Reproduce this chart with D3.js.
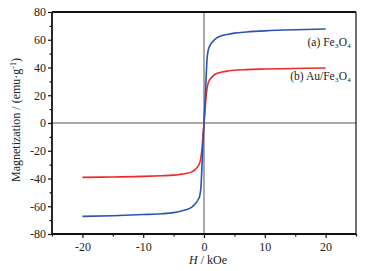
<!DOCTYPE html>
<html><head><meta charset="utf-8">
<script src="https://cdn.jsdelivr.net/npm/d3@7"></script>
<style>body{margin:0;background:#fff}svg{display:block}text{font-family:"Liberation Serif","Times New Roman",serif;fill:#222}</style>
</head><body><svg id="c" width="366" height="271"></svg>
<script>
const fieldH = [-20,-15,-10,-7,-5,-4,-3,-2,-1.5,-1,-0.7,-0.5,-0.3,-0.15,0,0.15,0.3,0.5,0.7,1,1.5,2,3,4,5,7,10,15,20];
const fe3o4 = [-67.3,-66.8,-66.0,-65.4,-64.6,-63.8,-62.6,-60.6,-58.6,-55.5,-52.5,-46,-28,-13,0,13,28,46,52.5,56,59,61,63,64,64.8,65.6,66.4,67.2,67.7];
const aufe3o4 = [-39.2,-38.9,-38.5,-38.0,-37.6,-37.1,-36.4,-35.2,-33.8,-31.3,-28.8,-24.8,-17,-8,0,8,17,25,29,31.5,34,35.5,36.8,37.5,38.0,38.5,38.9,39.3,39.6];
const xTicks = [-20,-10,0,10,20];
const yTicks = [-80,-60,-40,-20,0,20,40,60,80];
const seriesNames = ["(a) Fe\u2083O\u2084", "(b) Au/Fe\u2083O\u2084"];

const svg = d3.select("#c");
const L=52,R=356,T=12,B=234;
const x = d3.scaleLinear().domain([-25,25]).range([L,R]);
const y = d3.scaleLinear().domain([-80,80]).range([B,T]);

svg.append("line").attr("x1",L).attr("x2",R).attr("y1",y(0)).attr("y2",y(0)).attr("stroke","#555").attr("stroke-width",1);
svg.append("line").attr("x1",x(0)).attr("x2",x(0)).attr("y1",T).attr("y2",B).attr("stroke","#555").attr("stroke-width",1);

const line = d3.line().x((d,i)=>x(fieldH[i])).y(d=>y(d)).curve(d3.curveMonotoneX);
svg.append("path").attr("d",line(aufe3o4)).attr("fill","none").attr("stroke","#ee2a2a").attr("stroke-width",1.6);
svg.append("path").attr("d",line(fe3o4)).attr("fill","none").attr("stroke","#2b55b0").attr("stroke-width",1.6);

svg.append("line").attr("x1",L).attr("x2",R).attr("y1",T).attr("y2",T).attr("stroke","#111").attr("stroke-width",1.8);
svg.append("line").attr("x1",R).attr("x2",R).attr("y1",T).attr("y2",B).attr("stroke","#111").attr("stroke-width",1.2);

const fmt = d => String(d);
const xAxis = d3.axisBottom(x).tickValues(xTicks).tickSize(4).tickPadding(4).tickFormat(fmt);
const gx = svg.append("g").attr("transform",`translate(0,${B})`).call(xAxis);
const xMinor = d3.axisBottom(x).tickValues([-25,-15,-5,5,15,25]).tickSize(2.5).tickFormat("");
svg.append("g").attr("transform",`translate(0,${B})`).call(xMinor).select(".domain").remove();
const yAxis = d3.axisLeft(y).tickValues(yTicks).tickSize(4).tickPadding(2).tickFormat(fmt);
const gy = svg.append("g").attr("transform",`translate(${L},0)`).call(yAxis);
const yMinor = d3.axisLeft(y).tickValues([-70,-50,-30,-10,10,30,50,70]).tickSize(2.5).tickFormat("");
svg.append("g").attr("transform",`translate(${L},0)`).call(yMinor).select(".domain").remove();
svg.selectAll(".domain").attr("stroke","#111").attr("stroke-width",1.8);
svg.selectAll(".tick line").attr("stroke","#111").attr("stroke-width",1.2);
svg.selectAll(".tick text").style("font-family","'Liberation Serif',serif").style("font-size","12px").attr("fill","#222");
gx.selectAll(".domain").attr("d",`M${L},0H${R}`);
gy.selectAll(".domain").attr("d",`M0,${B}V${T}`);

svg.append("text").attr("x",351).attr("y",46).attr("text-anchor","end").style("font-size","11.5px").text(seriesNames[0]);
svg.append("text").attr("x",351).attr("y",80).attr("text-anchor","end").style("font-size","11.5px").text(seriesNames[1]);

const xt = svg.append("text").attr("x",208).attr("y",264).attr("text-anchor","middle").style("font-size","12px");
xt.append("tspan").style("font-style","italic").text("H");
xt.append("tspan").text(" / kOe");

const yt = svg.append("text").attr("transform","translate(20,120) rotate(-90)").attr("text-anchor","middle").style("font-size","12px");
yt.append("tspan").text("Magnetization / (emu\u00b7g");
yt.append("tspan").attr("dy",-4).style("font-size","8px").text("-1");
yt.append("tspan").attr("dy",4).text(")");
</script></body></html>
